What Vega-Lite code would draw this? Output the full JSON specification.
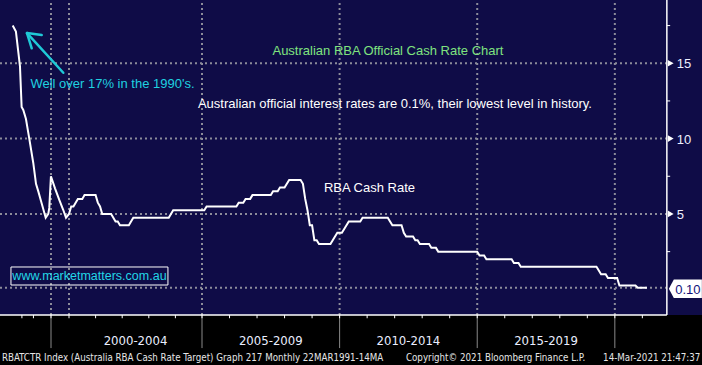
{
  "$schema": "https://vega.github.io/schema/vega-lite/v6.json",
  "width": 702,
  "height": 365,
  "autosize": {"type": "none"},
  "padding": 0,
  "background": "#0f0c47",
  "config": {"view": {"stroke": null}, "axis": {"disable": true}},
  "resolve": {"scale": {"x": "independent", "y": "independent"}},
  "data": {"values": [{"note": "annotation"}]},
  "datasets": {
    "rate": [
      {"year": 1990.0, "rate": 17.5},
      {"year": 1990.35, "rate": 17.1},
      {"year": 1990.79, "rate": 14.8},
      {"year": 1990.97, "rate": 12.1},
      {"year": 1991.15, "rate": 11.9},
      {"year": 1991.44, "rate": 11.3},
      {"year": 1991.8, "rate": 10.0},
      {"year": 1992.23, "rate": 8.4},
      {"year": 1992.53, "rate": 7.0},
      {"year": 1992.78, "rate": 6.5},
      {"year": 1993.15, "rate": 5.7},
      {"year": 1993.583, "rate": 4.75},
      {"year": 1994.27, "rate": 5.0},
      {"year": 1994.54, "rate": 5.4},
      {"year": 1994.98, "rate": 7.5},
      {"year": 1996.29, "rate": 6.7},
      {"year": 1997.67, "rate": 5.93},
      {"year": 1998.96, "rate": 5.26},
      {"year": 1999.833, "rate": 4.75},
      {"year": 2000.0, "rate": 5.0},
      {"year": 2000.083, "rate": 5.5},
      {"year": 2000.167, "rate": 5.5},
      {"year": 2000.25, "rate": 5.75},
      {"year": 2000.333, "rate": 6.0},
      {"year": 2000.5, "rate": 6.0},
      {"year": 2000.583, "rate": 6.25},
      {"year": 2001.0, "rate": 6.25},
      {"year": 2001.083, "rate": 5.75},
      {"year": 2001.167, "rate": 5.5},
      {"year": 2001.25, "rate": 5.0},
      {"year": 2001.583, "rate": 5.0},
      {"year": 2001.667, "rate": 4.75},
      {"year": 2001.75, "rate": 4.5},
      {"year": 2001.833, "rate": 4.5},
      {"year": 2001.917, "rate": 4.25},
      {"year": 2002.25, "rate": 4.25},
      {"year": 2002.333, "rate": 4.5},
      {"year": 2002.417, "rate": 4.75},
      {"year": 2003.75, "rate": 4.75},
      {"year": 2003.833, "rate": 5.0},
      {"year": 2003.917, "rate": 5.25},
      {"year": 2005.083, "rate": 5.25},
      {"year": 2005.167, "rate": 5.5},
      {"year": 2006.25, "rate": 5.5},
      {"year": 2006.333, "rate": 5.75},
      {"year": 2006.5, "rate": 5.75},
      {"year": 2006.583, "rate": 6.0},
      {"year": 2006.75, "rate": 6.0},
      {"year": 2006.833, "rate": 6.25},
      {"year": 2007.5, "rate": 6.25},
      {"year": 2007.583, "rate": 6.5},
      {"year": 2007.75, "rate": 6.5},
      {"year": 2007.833, "rate": 6.75},
      {"year": 2008.0, "rate": 6.75},
      {"year": 2008.083, "rate": 7.0},
      {"year": 2008.167, "rate": 7.25},
      {"year": 2008.583, "rate": 7.25},
      {"year": 2008.667, "rate": 7.0},
      {"year": 2008.75, "rate": 6.0},
      {"year": 2008.833, "rate": 5.25},
      {"year": 2008.917, "rate": 4.25},
      {"year": 2009.0, "rate": 4.25},
      {"year": 2009.083, "rate": 3.25},
      {"year": 2009.167, "rate": 3.25},
      {"year": 2009.25, "rate": 3.0},
      {"year": 2009.667, "rate": 3.0},
      {"year": 2009.75, "rate": 3.25},
      {"year": 2009.833, "rate": 3.5},
      {"year": 2009.917, "rate": 3.75},
      {"year": 2010.083, "rate": 3.75},
      {"year": 2010.167, "rate": 4.0},
      {"year": 2010.25, "rate": 4.25},
      {"year": 2010.333, "rate": 4.5},
      {"year": 2010.75, "rate": 4.5},
      {"year": 2010.833, "rate": 4.75},
      {"year": 2011.75, "rate": 4.75},
      {"year": 2011.833, "rate": 4.5},
      {"year": 2011.917, "rate": 4.25},
      {"year": 2012.25, "rate": 4.25},
      {"year": 2012.333, "rate": 3.75},
      {"year": 2012.417, "rate": 3.5},
      {"year": 2012.667, "rate": 3.5},
      {"year": 2012.75, "rate": 3.25},
      {"year": 2012.833, "rate": 3.25},
      {"year": 2012.917, "rate": 3.0},
      {"year": 2013.25, "rate": 3.0},
      {"year": 2013.333, "rate": 2.75},
      {"year": 2013.5, "rate": 2.75},
      {"year": 2013.583, "rate": 2.5},
      {"year": 2015.0, "rate": 2.5},
      {"year": 2015.083, "rate": 2.25},
      {"year": 2015.25, "rate": 2.25},
      {"year": 2015.333, "rate": 2.0},
      {"year": 2016.25, "rate": 2.0},
      {"year": 2016.333, "rate": 1.75},
      {"year": 2016.5, "rate": 1.75},
      {"year": 2016.583, "rate": 1.5},
      {"year": 2019.333, "rate": 1.5},
      {"year": 2019.417, "rate": 1.25},
      {"year": 2019.5, "rate": 1.0},
      {"year": 2019.667, "rate": 1.0},
      {"year": 2019.75, "rate": 0.75},
      {"year": 2020.083, "rate": 0.75},
      {"year": 2020.167, "rate": 0.25},
      {"year": 2020.75, "rate": 0.25},
      {"year": 2020.833, "rate": 0.1},
      {"year": 2021.167, "rate": 0.1}
    ],
    "hgrid": [{"level": 0.1}, {"level": 5}, {"level": 10}, {"level": 15}],
    "vgrid": [{"year": 1995}, {"year": 2000}, {"year": 2005}, {"year": 2010}, {"year": 2015}, {"year": 2020}],
    "separators": [{"year": 1995}, {"year": 2005}, {"year": 2010}, {"year": 2015}, {"year": 2020}],
    "yearTicks": [
      {"year": 1991}, {"year": 1992.25}, {"year": 1995},
      {"year": 2000}, {"year": 2001}, {"year": 2002}, {"year": 2003}, {"year": 2004},
      {"year": 2005}, {"year": 2006}, {"year": 2007}, {"year": 2008}, {"year": 2009},
      {"year": 2010}, {"year": 2011}, {"year": 2012}, {"year": 2013}, {"year": 2014},
      {"year": 2015}, {"year": 2016}, {"year": 2017}, {"year": 2018}, {"year": 2019},
      {"year": 2020}, {"year": 2021}
    ],
    "minorTicks": [{"level": 2.5}, {"level": 7.5}, {"level": 12.5}, {"level": 17.5}],
    "majorTicks": [{"level": 5, "label": "5"}, {"level": 10, "label": "10"}, {"level": 15, "label": "15"}],
    "periods": [
      {"mid": 2002.5, "label": "2000-2004"},
      {"mid": 2007.5, "label": "2005-2009"},
      {"mid": 2012.5, "label": "2010-2014"},
      {"mid": 2017.5, "label": "2015-2019"}
    ]
  },
  "layer": [
    {
      "mark": {"type": "rect", "fill": "#000000"},
      "encoding": {
        "x": {"datum": 1989.0, "type": "quantitative", "scale": {"type": "linear", "nice": false, "zero": false, "domain": [1989.167, 1990, 1993.583, 1995, 1999.833, 2000, 2005, 2023.167], "range": [0, 12.7, 45.7, 51, 66, 69, 202, 702]}},
        "x2": {"datum": 2023.3},
        "y": {"datum": -1.705, "type": "quantitative", "scale": {"domain": [-5.023, 19.197], "nice": false, "zero": false}},
        "y2": {"datum": -5.3}
      }
    },
    {
      "data": {"name": "hgrid"},
      "mark": {"type": "rule", "color": "#8c8c9a", "strokeWidth": 2, "strokeDash": [2, 3]},
      "encoding": {
        "x": {"datum": 1989.167, "type": "quantitative", "scale": {"type": "linear", "nice": false, "zero": false, "domain": [1989.167, 1990, 1993.583, 1995, 1999.833, 2000, 2005, 2023.167], "range": [0, 12.7, 45.7, 51, 66, 69, 202, 702]}},
        "x2": {"datum": 2021.89},
        "y": {"field": "level", "type": "quantitative", "scale": {"domain": [-5.023, 19.197], "nice": false, "zero": false}}
      }
    },
    {
      "data": {"name": "vgrid"},
      "mark": {"type": "rule", "color": "#8c8c9a", "strokeWidth": 2, "strokeDash": [2, 3]},
      "encoding": {
        "x": {"field": "year", "type": "quantitative", "scale": {"type": "linear", "nice": false, "zero": false, "domain": [1989.167, 1990, 1993.583, 1995, 1999.833, 2000, 2005, 2023.167], "range": [0, 12.7, 45.7, 51, 66, 69, 202, 702]}},
        "y": {"datum": -1.705, "type": "quantitative", "scale": {"domain": [-5.023, 19.197], "nice": false, "zero": false}},
        "y2": {"datum": 19.2}
      }
    },
    {
      "data": {"name": "separators"},
      "mark": {"type": "rule", "color": "#8a8a8a", "strokeWidth": 1},
      "encoding": {
        "x": {"field": "year", "type": "quantitative", "scale": {"type": "linear", "nice": false, "zero": false, "domain": [1989.167, 1990, 1993.583, 1995, 1999.833, 2000, 2005, 2023.167], "range": [0, 12.7, 45.7, 51, 66, 69, 202, 702]}},
        "y": {"datum": -1.705, "type": "quantitative", "scale": {"domain": [-5.023, 19.197], "nice": false, "zero": false}},
        "y2": {"datum": -3.9}
      }
    },
    {
      "data": {"name": "yearTicks"},
      "mark": {"type": "rule", "color": "#ffffff", "strokeWidth": 1},
      "encoding": {
        "x": {"field": "year", "type": "quantitative", "scale": {"type": "linear", "nice": false, "zero": false, "domain": [1989.167, 1990, 1993.583, 1995, 1999.833, 2000, 2005, 2023.167], "range": [0, 12.7, 45.7, 51, 66, 69, 202, 702]}},
        "y": {"datum": -1.705, "type": "quantitative", "scale": {"domain": [-5.023, 19.197], "nice": false, "zero": false}},
        "y2": {"datum": -1.92}
      }
    },
    {
      "mark": {"type": "rule", "color": "#ffffff", "strokeWidth": 1.5},
      "encoding": {
        "x": {"datum": 1989.167, "type": "quantitative", "scale": {"type": "linear", "nice": false, "zero": false, "domain": [1989.167, 1990, 1993.583, 1995, 1999.833, 2000, 2005, 2023.167], "range": [0, 12.7, 45.7, 51, 66, 69, 202, 702]}},
        "x2": {"datum": 2021.89},
        "y": {"datum": -1.705, "type": "quantitative", "scale": {"domain": [-5.023, 19.197], "nice": false, "zero": false}}
      }
    },
    {
      "mark": {"type": "rule", "color": "#ffffff", "strokeWidth": 1.5},
      "encoding": {
        "x": {"datum": 2021.89, "type": "quantitative", "scale": {"type": "linear", "nice": false, "zero": false, "domain": [1989.167, 1990, 1993.583, 1995, 1999.833, 2000, 2005, 2023.167], "range": [0, 12.7, 45.7, 51, 66, 69, 202, 702]}},
        "y": {"datum": -1.705, "type": "quantitative", "scale": {"domain": [-5.023, 19.197], "nice": false, "zero": false}},
        "y2": {"datum": 19.3}
      }
    },
    {
      "data": {"name": "minorTicks"},
      "mark": {"type": "rule", "color": "#ffffff", "strokeWidth": 1},
      "encoding": {
        "x": {"datum": 2021.89, "type": "quantitative", "scale": {"type": "linear", "nice": false, "zero": false, "domain": [1989.167, 1990, 1993.583, 1995, 1999.833, 2000, 2005, 2023.167], "range": [0, 12.7, 45.7, 51, 66, 69, 202, 702]}},
        "x2": {"datum": 2022.01},
        "y": {"field": "level", "type": "quantitative", "scale": {"domain": [-5.023, 19.197], "nice": false, "zero": false}}
      }
    },
    {
      "data": {"name": "majorTicks"},
      "mark": {"type": "point", "shape": "triangle-right", "filled": true, "color": "#ffffff", "size": 45, "opacity": 1},
      "encoding": {
        "x": {"datum": 2022.03, "type": "quantitative", "scale": {"type": "linear", "nice": false, "zero": false, "domain": [1989.167, 1990, 1993.583, 1995, 1999.833, 2000, 2005, 2023.167], "range": [0, 12.7, 45.7, 51, 66, 69, 202, 702]}},
        "y": {"field": "level", "type": "quantitative", "scale": {"domain": [-5.023, 19.197], "nice": false, "zero": false}}
      }
    },
    {
      "data": {"name": "majorTicks"},
      "mark": {"type": "text", "align": "left", "baseline": "middle", "font": "Liberation Sans, Arial, sans-serif", "fontSize": 13, "color": "#eef0ff", "dy": 1},
      "encoding": {
        "x": {"datum": 2022.254, "type": "quantitative", "scale": {"type": "linear", "nice": false, "zero": false, "domain": [1989.167, 1990, 1993.583, 1995, 1999.833, 2000, 2005, 2023.167], "range": [0, 12.7, 45.7, 51, 66, 69, 202, 702]}},
        "y": {"field": "level", "type": "quantitative", "scale": {"domain": [-5.023, 19.197], "nice": false, "zero": false}},
        "text": {"field": "label"}
      }
    },
    {
      "mark": {"type": "point", "shape": "M -1 0 L -0.7 -0.56 L 1 -0.56 L 1 0.56 L -0.7 0.56 Z", "filled": true, "color": "#ffffff", "size": 1089, "opacity": 1},
      "encoding": {
        "x": {"datum": 2022.5625, "type": "quantitative", "scale": {"type": "linear", "nice": false, "zero": false, "domain": [1989.167, 1990, 1993.583, 1995, 1999.833, 2000, 2005, 2023.167], "range": [0, 12.7, 45.7, 51, 66, 69, 202, 702]}},
        "y": {"datum": 0.036, "type": "quantitative", "scale": {"domain": [-5.023, 19.197], "nice": false, "zero": false}}
      }
    },
    {
      "mark": {"type": "text", "text": "0.10", "align": "center", "baseline": "middle", "font": "Liberation Sans, Arial, sans-serif", "fontSize": 13, "color": "#12127a", "dy": 1},
      "encoding": {
        "x": {"datum": 2022.653, "type": "quantitative", "scale": {"type": "linear", "nice": false, "zero": false, "domain": [1989.167, 1990, 1993.583, 1995, 1999.833, 2000, 2005, 2023.167], "range": [0, 12.7, 45.7, 51, 66, 69, 202, 702]}},
        "y": {"datum": 0.036, "type": "quantitative", "scale": {"domain": [-5.023, 19.197], "nice": false, "zero": false}}
      }
    },
    {
      "data": {"name": "rate"},
      "mark": {"type": "line", "color": "#ffffff", "strokeWidth": 2, "interpolate": "linear"},
      "encoding": {
        "x": {"field": "year", "type": "quantitative", "axis": null, "scale": {"type": "linear", "nice": false, "zero": false, "domain": [1989.167, 1990, 1993.583, 1995, 1999.833, 2000, 2005, 2023.167], "range": [0, 12.7, 45.7, 51, 66, 69, 202, 702]}},
        "y": {"field": "rate", "type": "quantitative", "axis": null, "scale": {"domain": [-5.023, 19.197], "nice": false, "zero": false}}
      }
    },
    {
      "mark": {"type": "text", "text": "Australian RBA Official Cash Rate Chart", "align": "center", "baseline": "middle", "font": "Liberation Sans, Arial, sans-serif", "fontSize": 13, "color": "#7fe37f"},
      "encoding": {
        "x": {"datum": 2011.756, "type": "quantitative", "scale": {"type": "linear", "nice": false, "zero": false, "domain": [1989.167, 1990, 1993.583, 1995, 1999.833, 2000, 2005, 2023.167], "range": [0, 12.7, 45.7, 51, 66, 69, 202, 702]}},
        "y": {"datum": 15.81, "type": "quantitative", "scale": {"domain": [-5.023, 19.197], "nice": false, "zero": false}}
      }
    },
    {
      "mark": {"type": "text", "text": "Australian official interest rates are 0.1%, their lowest level in history.", "align": "center", "baseline": "middle", "font": "Liberation Sans, Arial, sans-serif", "fontSize": 13, "color": "#ffffff"},
      "encoding": {
        "x": {"datum": 2012.01, "type": "quantitative", "scale": {"type": "linear", "nice": false, "zero": false, "domain": [1989.167, 1990, 1993.583, 1995, 1999.833, 2000, 2005, 2023.167], "range": [0, 12.7, 45.7, 51, 66, 69, 202, 702]}},
        "y": {"datum": 12.3, "type": "quantitative", "scale": {"domain": [-5.023, 19.197], "nice": false, "zero": false}}
      }
    },
    {
      "mark": {"type": "text", "text": "Well over 17% in the 1990's.", "align": "center", "baseline": "middle", "font": "Liberation Sans, Arial, sans-serif", "fontSize": 13, "color": "#1fd1e0"},
      "encoding": {
        "x": {"datum": 2001.635, "type": "quantitative", "scale": {"type": "linear", "nice": false, "zero": false, "domain": [1989.167, 1990, 1993.583, 1995, 1999.833, 2000, 2005, 2023.167], "range": [0, 12.7, 45.7, 51, 66, 69, 202, 702]}},
        "y": {"datum": 13.62, "type": "quantitative", "scale": {"domain": [-5.023, 19.197], "nice": false, "zero": false}}
      }
    },
    {
      "mark": {"type": "rule", "color": "#1fc8d6", "strokeWidth": 2.5, "strokeCap": "round"},
      "encoding": {
        "x": {"datum": 1991.552, "type": "quantitative", "scale": {"type": "linear", "nice": false, "zero": false, "domain": [1989.167, 1990, 1993.583, 1995, 1999.833, 2000, 2005, 2023.167], "range": [0, 12.7, 45.7, 51, 66, 69, 202, 702]}},
        "y": {"datum": 17.0, "type": "quantitative", "scale": {"domain": [-5.023, 19.197], "nice": false, "zero": false}},
        "x2": {"datum": 1998.96},
        "y2": {"datum": 14.37}
      }
    },
    {
      "mark": {"type": "rule", "color": "#1fc8d6", "strokeWidth": 2.5, "strokeCap": "round"},
      "encoding": {
        "x": {"datum": 1991.552, "type": "quantitative", "scale": {"type": "linear", "nice": false, "zero": false, "domain": [1989.167, 1990, 1993.583, 1995, 1999.833, 2000, 2005, 2023.167], "range": [0, 12.7, 45.7, 51, 66, 69, 202, 702]}},
        "y": {"datum": 17.0, "type": "quantitative", "scale": {"domain": [-5.023, 19.197], "nice": false, "zero": false}},
        "x2": {"datum": 1992.065},
        "y2": {"datum": 15.99}
      }
    },
    {
      "mark": {"type": "rule", "color": "#1fc8d6", "strokeWidth": 2.5, "strokeCap": "round"},
      "encoding": {
        "x": {"datum": 1991.552, "type": "quantitative", "scale": {"type": "linear", "nice": false, "zero": false, "domain": [1989.167, 1990, 1993.583, 1995, 1999.833, 2000, 2005, 2023.167], "range": [0, 12.7, 45.7, 51, 66, 69, 202, 702]}},
        "y": {"datum": 17.0, "type": "quantitative", "scale": {"domain": [-5.023, 19.197], "nice": false, "zero": false}},
        "x2": {"datum": 1993.15},
        "y2": {"datum": 16.87}
      }
    },
    {
      "mark": {"type": "text", "text": "RBA Cash Rate", "align": "center", "baseline": "middle", "font": "Liberation Sans, Arial, sans-serif", "fontSize": 13, "color": "#ffffff"},
      "encoding": {
        "x": {"datum": 2011.084, "type": "quantitative", "scale": {"type": "linear", "nice": false, "zero": false, "domain": [1989.167, 1990, 1993.583, 1995, 1999.833, 2000, 2005, 2023.167], "range": [0, 12.7, 45.7, 51, 66, 69, 202, 702]}},
        "y": {"datum": 6.72, "type": "quantitative", "scale": {"domain": [-5.023, 19.197], "nice": false, "zero": false}}
      }
    },
    {
      "mark": {"type": "rect", "fill": null, "stroke": "#ffffff", "strokeWidth": 1},
      "encoding": {
        "x": {"datum": 1989.886, "type": "quantitative", "scale": {"type": "linear", "nice": false, "zero": false, "domain": [1989.167, 1990, 1993.583, 1995, 1999.833, 2000, 2005, 2023.167], "range": [0, 12.7, 45.7, 51, 66, 69, 202, 702]}},
        "x2": {"datum": 2003.72},
        "y": {"datum": 1.48, "type": "quantitative", "scale": {"domain": [-5.023, 19.197], "nice": false, "zero": false}},
        "y2": {"datum": 0.285}
      }
    },
    {
      "mark": {"type": "text", "text": "www.marketmatters.com.au", "align": "center", "baseline": "middle", "font": "Liberation Sans, Arial, sans-serif", "fontSize": 12.5, "color": "#22d6e6"},
      "encoding": {
        "x": {"datum": 2000.77, "type": "quantitative", "scale": {"type": "linear", "nice": false, "zero": false, "domain": [1989.167, 1990, 1993.583, 1995, 1999.833, 2000, 2005, 2023.167], "range": [0, 12.7, 45.7, 51, 66, 69, 202, 702]}},
        "y": {"datum": 0.88, "type": "quantitative", "scale": {"domain": [-5.023, 19.197], "nice": false, "zero": false}}
      }
    },
    {
      "data": {"name": "periods"},
      "mark": {"type": "text", "align": "center", "baseline": "middle", "font": "DejaVu Sans Condensed, DejaVu Sans, sans-serif", "fontSize": 13, "color": "#eaeeff"},
      "encoding": {
        "x": {"field": "mid", "type": "quantitative", "scale": {"type": "linear", "nice": false, "zero": false, "domain": [1989.167, 1990, 1993.583, 1995, 1999.833, 2000, 2005, 2023.167], "range": [0, 12.7, 45.7, 51, 66, 69, 202, 702]}},
        "y": {"datum": -3.43, "type": "quantitative", "scale": {"domain": [-5.023, 19.197], "nice": false, "zero": false}},
        "text": {"field": "label"}
      }
    },
    {
      "mark": {"type": "text", "text": "RBATCTR Index (Australia RBA Cash Rate Target) Graph 217  Monthly 22MAR1991-14MA", "align": "left", "baseline": "middle", "font": "DejaVu Sans Condensed, sans-serif", "fontSize": 9.7, "color": "#e6e6e6"},
      "encoding": {
        "x": {"datum": 1989.29, "type": "quantitative", "scale": {"type": "linear", "nice": false, "zero": false, "domain": [1989.167, 1990, 1993.583, 1995, 1999.833, 2000, 2005, 2023.167], "range": [0, 12.7, 45.7, 51, 66, 69, 202, 702]}},
        "y": {"datum": -4.58, "type": "quantitative", "scale": {"domain": [-5.023, 19.197], "nice": false, "zero": false}}
      }
    },
    {
      "mark": {"type": "text", "text": "Copyright© 2021 Bloomberg Finance L.P.", "align": "left", "baseline": "middle", "font": "DejaVu Sans Condensed, sans-serif", "fontSize": 9.7, "color": "#e6e6e6"},
      "encoding": {
        "x": {"datum": 2012.41, "type": "quantitative", "scale": {"type": "linear", "nice": false, "zero": false, "domain": [1989.167, 1990, 1993.583, 1995, 1999.833, 2000, 2005, 2023.167], "range": [0, 12.7, 45.7, 51, 66, 69, 202, 702]}},
        "y": {"datum": -4.58, "type": "quantitative", "scale": {"domain": [-5.023, 19.197], "nice": false, "zero": false}}
      }
    },
    {
      "mark": {"type": "text", "text": "14-Mar-2021 21:47:37", "align": "right", "baseline": "middle", "font": "DejaVu Sans Condensed, sans-serif", "fontSize": 9.7, "color": "#e6e6e6"},
      "encoding": {
        "x": {"datum": 2023.108, "type": "quantitative", "scale": {"type": "linear", "nice": false, "zero": false, "domain": [1989.167, 1990, 1993.583, 1995, 1999.833, 2000, 2005, 2023.167], "range": [0, 12.7, 45.7, 51, 66, 69, 202, 702]}},
        "y": {"datum": -4.58, "type": "quantitative", "scale": {"domain": [-5.023, 19.197], "nice": false, "zero": false}}
      }
    }
  ]
}
